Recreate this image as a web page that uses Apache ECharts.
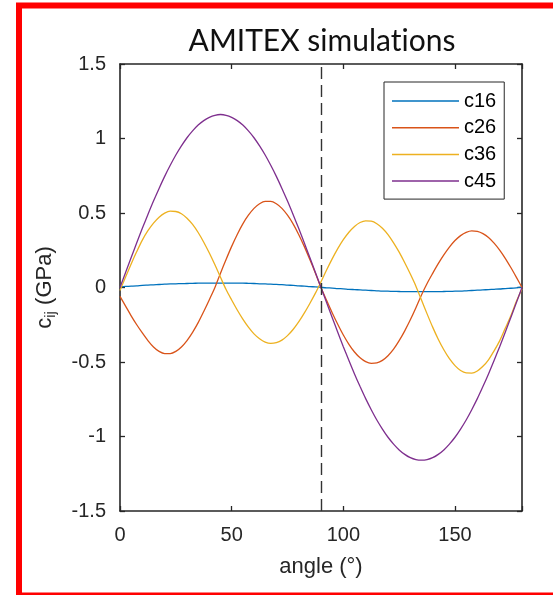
<!DOCTYPE html>
<html>
<head>
<meta charset="utf-8">
<style>html,body{margin:0;padding:0;background:#fff;}#chart{width:553px;height:595px;}</style>
<script src="https://cdn.jsdelivr.net/npm/echarts@6/dist/echarts.min.js"></script>
</head>
<body>
<div id="chart"></div>
<script>
const angles = [0,2.5,5,7.5,10,12.5,15,17.5,20,22.5,
25,27.5,30,32.5,35,37.5,40,42.5,45,47.5,
50,52.5,55,57.5,60,62.5,65,67.5,70,72.5,
75,77.5,80,82.5,85,87.5,90,92.5,95,97.5,
100,102.5,105,107.5,110,112.5,115,117.5,120,122.5,
125,127.5,130,132.5,135,137.5,140,142.5,145,147.5,
150,152.5,155,157.5,160,162.5,165,167.5,170,172.5,
175,177.5,180];
const c16 = [0.005,0.007,0.009,0.011,0.014,0.016,0.018,0.020,0.022,0.024,
0.025,0.026,0.027,0.028,0.029,0.030,0.030,0.030,0.030,0.030,
0.030,0.029,0.029,0.028,0.027,0.025,0.024,0.022,0.021,0.019,
0.016,0.014,0.011,0.009,0.006,0.004,0.001,-0.002,-0.004,-0.007,
-0.009,-0.012,-0.014,-0.016,-0.018,-0.020,-0.022,-0.024,-0.025,-0.026,
-0.027,-0.028,-0.028,-0.028,-0.028,-0.028,-0.028,-0.028,-0.027,-0.026,
-0.025,-0.024,-0.022,-0.020,-0.018,-0.016,-0.014,-0.012,-0.010,-0.007,
-0.005,-0.002,0.002];
const c26 = [-0.06,-0.125,-0.19,-0.25,-0.305,-0.356,-0.399,-0.429,-0.444,-0.444,
-0.429,-0.399,-0.356,-0.301,-0.236,-0.161,-0.082,0.0,0.096,0.188,
0.276,0.356,0.427,0.485,0.531,0.562,0.578,0.578,0.562,0.531,
0.485,0.427,0.356,0.276,0.188,0.096,0.0,-0.086,-0.169,-0.247,
-0.319,-0.381,-0.433,-0.472,-0.498,-0.509,-0.506,-0.489,-0.458,-0.414,
-0.357,-0.291,-0.217,-0.136,-0.05,0.027,0.095,0.160,0.219,0.271,
0.315,0.348,0.370,0.380,0.377,0.362,0.336,0.298,0.251,0.196,
0.134,0.068,0.0];
const c36 = [-0.02,0.07,0.158,0.241,0.318,0.381,0.432,0.472,0.499,0.512,
0.51,0.495,0.465,0.423,0.369,0.304,0.231,0.152,0.069,-0.014,
-0.084,-0.151,-0.212,-0.266,-0.311,-0.344,-0.366,-0.375,-0.37,-0.353,
-0.323,-0.282,-0.231,-0.172,-0.107,-0.038,0.038,0.117,0.192,0.261,
0.321,0.371,0.41,0.436,0.447,0.445,0.428,0.398,0.355,0.300,
0.237,0.166,0.09,0.009,-0.084,-0.177,-0.266,-0.347,-0.418,-0.478,
-0.524,-0.557,-0.573,-0.574,-0.56,-0.529,-0.485,-0.425,-0.358,-0.274,
-0.19,-0.093,-0.01];
const c45 = [0,0.101,0.201,0.300,0.397,0.490,0.58,0.665,0.746,0.820,
0.889,0.950,1.005,1.051,1.09,1.120,1.142,1.156,1.161,1.156,
1.142,1.120,1.09,1.051,1.005,0.950,0.889,0.820,0.746,0.665,
0.58,0.490,0.397,0.300,0.201,0.101,0,-0.101,-0.201,-0.300,
-0.397,-0.490,-0.58,-0.665,-0.746,-0.820,-0.889,-0.950,-1.005,-1.051,
-1.09,-1.120,-1.142,-1.155,-1.159,-1.155,-1.142,-1.120,-1.09,-1.051,
-1.005,-0.950,-0.889,-0.820,-0.746,-0.665,-0.58,-0.490,-0.397,-0.300,
-0.201,-0.101,0];
const seriesNames = ['c16','c26','c36','c45'];
const seriesColors = ['#0072BD','#D95319','#EDB120','#7E2F8E'];
const dashedAngle = 90;
const xTicks = [0,50,100,150];
const titleText = 'AMITEX simulations';
const xName = 'angle (°)';

const allValues = [c16,c26,c36,c45];
const font = 'Liberation Sans';
const axisColor = '#262626';

const chart = echarts.init(document.getElementById('chart'), null, {renderer:'canvas'});
const series = seriesNames.map((n,i)=>({
  name:n, type:'line', smooth:0.3, symbol:'none', showSymbol:false,
  data: angles.map((a,k)=>[a, allValues[i][k]]),
  lineStyle:{width:1.3, color:seriesColors[i]}, itemStyle:{color:seriesColors[i]},
  z: 3,
  markLine: i===0 ? {silent:true, symbol:'none', label:{show:false},
    lineStyle:{type:[12,6], color:'#333', width:1.4},
    data:[{xAxis:dashedAngle}]} : undefined
}));

// split between "t" and "i" into two rich tokens so no "ti" ligature is formed
const titleRich = '{t|' + titleText.replace('ti', 't}{t|i') + '}';

const tickStyle = {inside:true, length:5, lineStyle:{color:axisColor, width:1.3}};
chart.setOption({
  backgroundColor:'#fff',
  animation:false,
  grid:{left:120, right:31, top:64, bottom:84, containLabel:false},
  xAxis:[{
    type:'value', min:0, max:180, interval:50, position:'bottom',
    axisLine:{show:true, onZero:false, lineStyle:{color:axisColor, width:1.6}},
    axisTick:tickStyle,
    splitLine:{show:false},
    axisLabel:{color:axisColor, fontFamily:font, fontSize:20, margin:14,
      formatter:v=> xTicks.indexOf(v)>=0 ? String(v) : ''},
    name:xName, nameLocation:'middle', nameGap:45,
    nameTextStyle:{color:axisColor, fontFamily:font, fontSize:22}
  },{
    type:'value', min:0, max:180, interval:50, position:'top',
    axisLine:{show:true, onZero:false, lineStyle:{color:axisColor, width:1.6}},
    axisTick:tickStyle, axisLabel:{show:false}, splitLine:{show:false}
  }],
  yAxis:[{
    type:'value', min:-1.5, max:1.5, interval:0.5, position:'left',
    axisLine:{show:true, onZero:false, lineStyle:{color:axisColor, width:1.6}},
    axisTick:tickStyle, splitLine:{show:false},
    axisLabel:{color:axisColor, fontFamily:font, fontSize:20, margin:14},
    name:'{a|c}{b|ij}{a| (GPa)}', nameLocation:'middle', nameGap:62,
    nameTextStyle:{color:axisColor, fontFamily:font, fontSize:22,
      rich:{a:{fontFamily:font, fontSize:22, lineHeight:26, verticalAlign:'middle', color:axisColor},
            b:{fontFamily:font, fontSize:15, lineHeight:12, verticalAlign:'bottom', color:axisColor}}}
  },{
    type:'value', min:-1.5, max:1.5, interval:0.5, position:'right',
    axisLine:{show:true, onZero:false, lineStyle:{color:axisColor, width:1.6}},
    axisTick:tickStyle, axisLabel:{show:false}, splitLine:{show:false}
  }],
  legend:{
    orient:'vertical', left:384, top:82, padding:[9,8,8,8],
    itemWidth:67, itemHeight:1.5, itemGap:6.7, icon:'rect',
    backgroundColor:'#fff', borderColor:axisColor, borderWidth:1,
    textStyle:{color:'#000', fontFamily:font, fontSize:20, lineHeight:20},
    data:seriesNames
  },
  graphic:[
    {type:'text', x:322, y:41, z:10,
      style:{text:titleRich, align:'center', verticalAlign:'middle',
        rich:{t:{fontFamily:'Lato', fontSize:30, fill:'#111', color:'#111'}}}},
    {type:'rect', z:20, silent:true,
      shape:{x:19, y:5.5, width:620, height:590},
      style:{fill:'none', stroke:'#ff0000', lineWidth:6}}
  ],
  series:series
});
</script>
</body>
</html>
